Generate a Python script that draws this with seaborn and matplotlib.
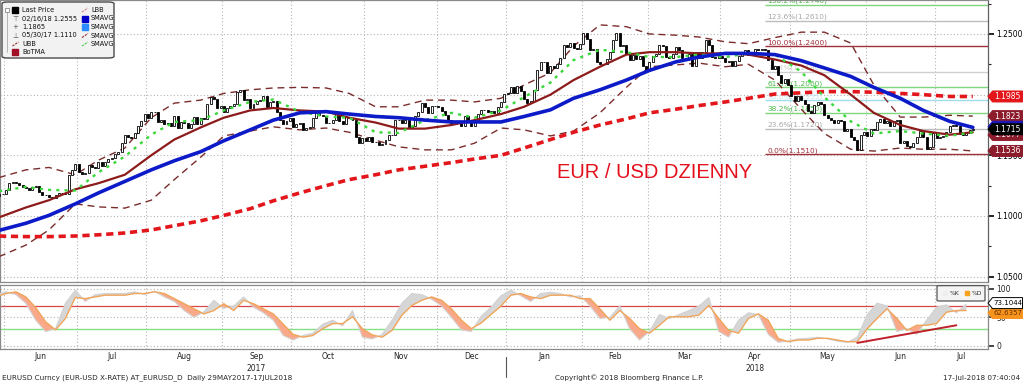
import matplotlib
matplotlib.use("Agg")
import matplotlib.pyplot as plt
import matplotlib.transforms as mtransforms
from matplotlib.patches import FancyBboxPatch, Polygon
import seaborn as sns
import pandas as pd
import numpy as np

# ---------------- data ----------------
# daily closes, one row per week (Mon..Fri), 29 May 2017 - 17 Jul 2018
first_open = 1.1170
closes = [
    1.1165, 1.1185, 1.1180, 1.1215, 1.1275,
    1.1280, 1.1270, 1.1255, 1.1240, 1.1230,
    1.1215, 1.1240, 1.1245, 1.1200, 1.1170,
    1.1175, 1.1160, 1.1150, 1.1170, 1.1190,
    1.1190, 1.1180, 1.1340, 1.1380, 1.1425,
    1.1365, 1.1350, 1.1355, 1.1420, 1.1400,
    1.1395, 1.1445, 1.1415, 1.1445, 1.1470,
    1.1475, 1.1510, 1.1525, 1.1600, 1.1665,
    1.1650, 1.1645, 1.1680, 1.1745, 1.1780,
    1.1840, 1.1805, 1.1860, 1.1860, 1.1775,
    1.1790, 1.1755, 1.1770, 1.1740, 1.1820,
    1.1725, 1.1775, 1.1765, 1.1725, 1.1760,
    1.1815, 1.1760, 1.1810, 1.1800, 1.1925,
    1.1980, 1.1965, 1.1890, 1.1910, 1.1860,
    1.1890, 1.1910, 1.1920, 1.2020, 1.2035,
    1.1960, 1.1965, 1.1890, 1.1920, 1.1945,
    1.1955, 1.1990, 1.1895, 1.1940, 1.1950,
    1.1860, 1.1795, 1.1760, 1.1785, 1.1810,
    1.1735, 1.1760, 1.1765, 1.1710, 1.1725,
    1.1735, 1.1805, 1.1850, 1.1830, 1.1820,
    1.1765, 1.1765, 1.1790, 1.1840, 1.1785,
    1.1760, 1.1815, 1.1810, 1.1790, 1.1650,
    1.1605, 1.1645, 1.1620, 1.1655, 1.1610,
    1.1610, 1.1585, 1.1595, 1.1625, 1.1665,
    1.1665, 1.1795, 1.1790, 1.1770, 1.1795,
    1.1735, 1.1745, 1.1820, 1.1855, 1.1930,
    1.1895, 1.1845, 1.1905, 1.1905, 1.1895,
    1.1865, 1.1830, 1.1795, 1.1770, 1.1770,
    1.1775, 1.1740, 1.1825, 1.1775, 1.1745,
    1.1785, 1.1840, 1.1875, 1.1875, 1.1860,
    1.1865, 1.1850, 1.1895, 1.1940, 1.2005,
    1.2010, 1.2060, 1.2015, 1.2070, 1.2030,
    1.1965, 1.1935, 1.1950, 1.2035, 1.2200,
    1.2265, 1.2265, 1.2180, 1.2235, 1.2220,
    1.2255, 1.2300, 1.2410, 1.2395, 1.2425,
    1.2385, 1.2375, 1.2415, 1.2510, 1.2460,
    1.2370, 1.2380, 1.2270, 1.2250, 1.2250,
    1.2290, 1.2350, 1.2450, 1.2510, 1.2405,
    1.2410, 1.2335, 1.2285, 1.2325, 1.2295,
    1.2320, 1.2235, 1.2195, 1.2265, 1.2315,
    1.2335, 1.2410, 1.2405, 1.2310, 1.2305,
    1.2335, 1.2390, 1.2370, 1.2305, 1.2290,
    1.2335, 1.2240, 1.2350, 1.2300, 1.2355,
    1.2450, 1.2410, 1.2310, 1.2305, 1.2320,
    1.2300, 1.2270, 1.2275, 1.2240, 1.2280,
    1.2320, 1.2355, 1.2370, 1.2325, 1.2330,
    1.2380, 1.2370, 1.2375, 1.2370, 1.2285,
    1.2210, 1.2235, 1.2165, 1.2100, 1.2130,
    1.2080, 1.1990, 1.1950, 1.1990, 1.1960,
    1.1925, 1.1865, 1.1850, 1.1915, 1.1940,
    1.1925, 1.1835, 1.1810, 1.1790, 1.1770,
    1.1790, 1.1780, 1.1700, 1.1720, 1.1650,
    1.1625, 1.1540, 1.1665, 1.1690, 1.1660,
    1.1715, 1.1710, 1.1775, 1.1800, 1.1765,
    1.1780, 1.1745, 1.1785, 1.1795, 1.1605,
    1.1620, 1.1575, 1.1570, 1.1605, 1.1655,
    1.1700, 1.1650, 1.1550, 1.1570, 1.1685,
    1.1640, 1.1655, 1.1660, 1.1690, 1.1745,
    1.1750, 1.1740, 1.1675, 1.1665, 1.1685,
    1.1710, 1.1715,
]

# indicator lines, sampled at these trading days (0 = 29 May 2017)
ma_days = [0, 9, 16, 24, 31, 39, 47, 54, 62, 69, 77, 84, 92, 100, 107, 115, 122, 130, 138, 145,
           153, 160, 168, 175, 183, 191, 198, 206, 213, 221, 228, 236, 244, 251, 259, 266, 274, 281, 289, 296]
sma_blue = [1.0875, 1.094, 1.1005, 1.110, 1.119, 1.1285, 1.138, 1.1455, 1.153, 1.162,
            1.171, 1.179, 1.185, 1.186, 1.184, 1.182, 1.181, 1.179, 1.1775, 1.1775,
            1.1775, 1.182, 1.1875, 1.197, 1.204, 1.212, 1.220, 1.227, 1.231, 1.234,
            1.234, 1.233, 1.228, 1.222, 1.215, 1.206, 1.197, 1.187, 1.178, 1.173]
sma_darkred = [1.098, 1.107, 1.113, 1.122, 1.127, 1.134, 1.150, 1.163, 1.173, 1.181,
               1.187, 1.189, 1.187, 1.186, 1.181, 1.177, 1.172, 1.172, 1.175, 1.179,
               1.184, 1.190, 1.200, 1.212, 1.223, 1.233, 1.235, 1.235, 1.234, 1.234,
               1.233, 1.229, 1.224, 1.216, 1.200, 1.185, 1.175, 1.170, 1.167, 1.169]
sma_red = [1.0835, 1.083, 1.083, 1.0835, 1.0845, 1.086, 1.0885, 1.092, 1.096, 1.1005,
           1.106, 1.1125, 1.119, 1.125, 1.130, 1.134, 1.138, 1.141, 1.144, 1.147,
           1.150, 1.156, 1.163, 1.169, 1.175, 1.180, 1.185, 1.188, 1.191, 1.194,
           1.197, 1.2005, 1.2015, 1.2025, 1.2025, 1.202, 1.201, 1.200, 1.1985, 1.1985]
sma_green = [1.120, 1.124, 1.1215, 1.121, 1.136, 1.149, 1.167, 1.1775, 1.179, 1.187,
             1.194, 1.196, 1.186, 1.182, 1.181, 1.169, 1.1685, 1.179, 1.185, 1.181,
             1.187, 1.198, 1.210, 1.2285, 1.237, 1.235, 1.231, 1.231, 1.233, 1.231,
             1.234, 1.233, 1.219, 1.198, 1.178, 1.168, 1.170, 1.168, 1.166, 1.169]
bb_upper = [1.131, 1.138, 1.140, 1.134, 1.146, 1.156, 1.181, 1.193, 1.1955, 1.201,
            1.204, 1.2055, 1.206, 1.2055, 1.201, 1.190, 1.190, 1.1955, 1.1955, 1.194,
            1.197, 1.208, 1.218, 1.240, 1.2575, 1.256, 1.250, 1.249, 1.2475, 1.2435,
            1.242, 1.247, 1.2515, 1.2515, 1.2425, 1.208, 1.1815, 1.1815, 1.183, 1.1823]
bb_lower = [1.0655, 1.076, 1.0885, 1.110, 1.1075, 1.1065, 1.113, 1.130, 1.1485, 1.166,
            1.170, 1.1735, 1.171, 1.1725, 1.169, 1.1625, 1.157, 1.1545, 1.1545, 1.160,
            1.1725, 1.171, 1.166, 1.170, 1.185, 1.206, 1.223, 1.2245, 1.226, 1.223,
            1.225, 1.212, 1.188, 1.168, 1.155, 1.1535, 1.156, 1.155, 1.155, 1.1536]

fib_levels = [1.1510, 1.1720, 1.1850, 1.1955, 1.2060, 1.2190, 1.2400, 1.2610, 1.2740]
fib_names = ["0.0%", "23.6%", "38.2%", "50.0%", "61.8%", "76.4%", "100.0%", "123.6%", "138.2%"]
fib_start_day = 233

# right-hand value tags (drawn in this order, last on top)
tag_values = [1.1985, 1.1823, 1.1735, 1.1668, 1.1715, 1.1536]
tag_texts = ["1.1985", "1.1823", "", "1.1677", "1.1715", "1.1536"]

# price axis ticks (1.2000 sits under the 1.1985 tag in the original)
price_ticks = [1.05, 1.10, 1.15, 1.20, 1.25]
price_tick_labels = ["1.0500", "1.1000", "1.1500", "", "1.2500"]

# slow stochastic, every third trading day
stoch_days = list(range(0, 295, 3))
pct_d = [86, 92, 95, 86, 67, 42, 28, 48, 85, 83, 86, 89, 89,
         89, 92, 92, 95, 92, 83, 74, 65, 56, 62, 74, 62, 80, 74, 65, 56, 38, 20, 15, 18,
         30, 39, 39, 51, 30, 19, 15, 27, 54, 71, 80, 86, 80, 65, 45, 30, 40, 55, 70, 89,
         92, 86, 83, 89, 89, 89, 83, 83, 65, 45, 62, 48,
         30, 22, 36, 51, 51, 51, 54, 71, 48, 27, 22, 48, 56, 45, 13, 7, 10, 10, 13, 13,
         10, 7, 7, 30, 48, 65, 48, 27, 36, 36, 39, 59, 62, 62]
pct_k = [90, 95, 90, 75, 45, 25, 30, 75, 98, 78, 90, 92, 92,
         92, 95, 90, 96, 86, 78, 62, 50, 60, 80, 66, 70, 86, 68, 58, 45, 18, 10, 18, 22,
         38, 45, 35, 62, 15, 12, 20, 45, 75, 92, 90, 82, 70, 50, 28, 25, 52, 68, 88, 98,
         88, 78, 92, 94, 92, 86, 88, 70, 48, 50, 70, 30,
         10, 25, 55, 48, 55, 62, 70, 85, 25, 15, 45, 58, 55, 20, 6, 8, 12, 13, 15, 12,
         8, 6, 15, 55, 75, 70, 25, 30, 20, 45, 68, 72, 58, 73]
trend_days = [261, 291]
trend_vals = [5, 36]
k_last, d_last = 73.1044, 62.6357

# ---------------- figure ----------------
sns.set_style("white")
plt.rcParams['font.family'] = ['DejaVu Sans']

W, H = 1023, 384
fig = plt.figure(figsize=(W / 100, H / 100), dpi=100)
ax = fig.add_axes([0.0, 1 - 282 / H, 988 / W, 282 / H])
ax2 = fig.add_axes([0.0, 1 - 349 / H, 988 / W, 64 / H])

dates = pd.bdate_range("2017-05-29", "2018-07-17")
n = len(dates)
days = np.arange(n)
x_lo, x_hi = 1.17, 300.6

month_id = dates.year * 12 + dates.month
starts = [i for i in range(1, n) if month_id[i] != month_id[i - 1]]
bounds = [s - 0.5 for s in starts]
ends = bounds[1:] + [x_hi]
centers = [(b + e) / 2 for b, e in zip(bounds, ends)]
mlabels = [dates[s].strftime("%b") for s in starts]

grid_kw = dict(color="#b4b4b4", lw=0.8, ls=(0, (1, 2)), zorder=1)

# --- main panel ---
for b in bounds:
    ax.axvline(b, **grid_kw)
for lvl in price_ticks:
    ax.axhline(lvl, **grid_kw)

fib_colors = ["#a0303a", "#bdbdbd", "#7fd67f", "#9fdcec", "#7fd67f", "#cfcfcf",
              "#a0303a", "#bdbdbd", "#7fd67f"]
fib_tcolors = ["#a0303a", "#a8a8a8", "#4cb84c", "#bfe6f0", "#4cb84c", "#d0d0d0",
               "#a0303a", "#a8a8a8", "#4cb84c"]
for lvl, name, c, tc in zip(fib_levels, fib_names, fib_colors, fib_tcolors):
    ax.hlines(lvl, fib_start_day, x_hi, color=c, lw=1.0, zorder=2)
    ax.text(fib_start_day + 0.8, lvl + 0.0030, f"{name}({lvl:.4f})", color=tc,
            fontsize=5.3, va="center", ha="left", zorder=2)

opens = [first_open] + closes[:-1]
candles = pd.DataFrame({"day": days, "open": opens, "close": closes})
up = candles["close"] >= candles["open"]
for mask, fc in [(up, "white"), (~up, "black")]:
    sub = candles[mask]
    ax.bar(sub["day"], sub["close"] - sub["open"], bottom=sub["open"], width=0.6,
           facecolor=fc, edgecolor="black", linewidth=0.6, zorder=4)

sns.lineplot(x=ma_days, y=bb_upper, ax=ax, color="#7b2d2d", linewidth=1.0,
             linestyle=(0, (5, 3.5)), zorder=3)
sns.lineplot(x=ma_days, y=bb_lower, ax=ax, color="#7b2d2d", linewidth=1.0,
             linestyle=(0, (5, 3.5)), zorder=3)
sns.lineplot(x=ma_days, y=sma_red, ax=ax, color="#e3161c", linewidth=2.6,
             linestyle=(0, (2.0, 1.3)), zorder=5)
sns.lineplot(x=ma_days, y=sma_darkred, ax=ax, color="#8e1b1b", linewidth=1.6, zorder=5)
sns.lineplot(x=ma_days, y=sma_green, ax=ax, color="#3ad83a", linewidth=1.7,
             linestyle=(0, (1.3, 2.2)), zorder=6)
sns.lineplot(x=ma_days, y=sma_blue, ax=ax, color="#0c1ac8", linewidth=2.6, zorder=6)

ax.text(655 / 988, 1 - 172 / 282, "EUR / USD DZIENNY", transform=ax.transAxes,
        color="#e3101c", fontsize=14.5, ha="center", va="center",
        family=["Liberation Sans", "DejaVu Sans"])

ax.set_xlim(x_lo, x_hi)
ax.set_ylim(1.0456, 1.278)
ax.set_xticks([])
ax.yaxis.tick_right()
ax.set_yticks(price_ticks)
ax.set_yticklabels(price_tick_labels)
ax.set_yticks([1.075, 1.125, 1.175, 1.225, 1.275], minor=True)
ax.tick_params(axis="y", which="major", direction="out", length=4, width=1.2,
               labelsize=5.5, pad=2, colors="black")
ax.tick_params(axis="y", which="minor", direction="out", length=2.5, width=0.8)
ax.set_xlabel("")
ax.set_ylabel("")
for s in ax.spines.values():
    s.set_color("#8a8a8a")
    s.set_linewidth(0.9)
ax.spines["right"].set_color("#606060")


# arrow-shaped value tag on the right edge of an axes (pixel geometry)
def value_tag(axis, value, text, bg, fg, edge=None, size=5.5, z=30):
    y = axis.transData.transform((0, value))[1]
    x0 = axis.transAxes.transform((1, 0))[0]
    h, tip, w = 5.5, 4.5, 34.5
    pts = [(x0, y), (x0 + tip, y + h), (x0 + w, y + h), (x0 + w, y - h), (x0 + tip, y - h)]
    poly = Polygon(pts, closed=True, transform=mtransforms.IdentityTransform(),
                   fc=bg, ec=edge or bg, lw=0.7, zorder=z)
    fig.add_artist(poly)
    if text:
        fig.text((x0 + tip + (w - tip) / 2) / W, y / H, text, fontsize=size, color=fg,
                 ha="center", va="center", zorder=z + 0.5)


tag_bg = ["#e3161c", "#8c1c2c", "#1818c0", "#8c1c2c", "black", "#8c1c2c"]
for i, (v, t, bg) in enumerate(zip(tag_values, tag_texts, tag_bg)):
    value_tag(ax, v, t, bg, "white", z=30 + i)

# legend box (top-left)
def axf(px, py):
    return px / 988, 1 - py / 282

box = FancyBboxPatch(axf(2, 58), 112 / 988, 56 / 282, transform=ax.transAxes,
                     boxstyle="round,pad=0,rounding_size=0.006", fc="#f2f2f2",
                     ec="#4a4a4a", lw=1.0, zorder=15)
ax.add_patch(box)
rows = [10, 18.5, 27, 35.5, 44, 52]
ax.plot(*zip(axf(7, 10), axf(7, 52)), transform=ax.transAxes, color="#aaaaaa",
        lw=0.6, zorder=16)
ax.plot(*axf(7, 10), marker="s", ms=3.2, mfc="white", mec="#888888", mew=0.6,
        transform=ax.transAxes, zorder=17)
col1 = ["Last Price", "02/16/18 1.2555", "1.1865", "05/30/17 1.1110", "UBB", "BoTMA"]
for y, t in zip(rows, col1):
    ax.text(*axf(22, y), t, transform=ax.transAxes, fontsize=4.8, va="center",
            ha="left", zorder=17, color="#111111")
ax.plot(*axf(15.5, rows[0]), marker="s", ms=4, color="black", transform=ax.transAxes, zorder=17)
for y, g in zip(rows[1:4], ["\u22a4", "+", "\u22a5"]):
    ax.text(*axf(15.5, y), g, transform=ax.transAxes, fontsize=5, va="center",
            ha="center", zorder=17, color="#555555")
ax.plot(*zip(axf(12.5, rows[4] + 2), axf(18.5, rows[4] - 2)), transform=ax.transAxes,
        color="#8c2a2a", lw=0.8, ls=(0, (2, 1)), zorder=17)
ax.plot(*axf(15.5, rows[5]), marker="s", ms=4, color="#a01028", transform=ax.transAxes, zorder=17)
col2 = ["LBB", "SMAVG", "SMAVG", "SMAVG", "SMAVG"]
for y, t in zip(rows[:5], col2):
    ax.text(*axf(91, y), t, transform=ax.transAxes, fontsize=4.8, va="center",
            ha="left", zorder=17, color="#111111")
ax.plot(*zip(axf(82, rows[0] + 2), axf(88, rows[0] - 2)), transform=ax.transAxes,
        color="#d08080", lw=0.8, ls=(0, (2, 1)), zorder=17)
ax.plot(*axf(85, rows[1]), marker="s", ms=4, color="#0000c8", transform=ax.transAxes, zorder=17)
ax.plot(*axf(85, rows[2]), marker="s", ms=4, color="#2a8cff", transform=ax.transAxes, zorder=17)
ax.plot(*zip(axf(82, rows[3] + 2), axf(88, rows[3] - 2)), transform=ax.transAxes,
        color="#8c2a2a", lw=0.8, ls=(0, (2, 1)), zorder=17)
ax.plot(*zip(axf(82, rows[4] + 2), axf(88, rows[4] - 2)), transform=ax.transAxes,
        color="#40d040", lw=0.8, ls=(0, (2, 1)), zorder=17)

# --- stochastic panel ---
for b in bounds:
    ax2.axvline(b, **grid_kw)
for lvl in [0, 50, 100]:
    ax2.axhline(lvl, **grid_kw)
ax2.axhline(70, color="#d84848", lw=0.9, zorder=2)
ax2.axhline(30, color="#86e086", lw=1.0, zorder=2)

k_arr = np.array(pct_k, dtype=float)
d_arr = np.array(pct_d, dtype=float)
ax2.fill_between(stoch_days, k_arr, d_arr, where=k_arr >= d_arr, interpolate=True,
                 color="#d6d6d6", lw=0, zorder=3)
ax2.fill_between(stoch_days, k_arr, d_arr, where=k_arr < d_arr, interpolate=True,
                 color="#f9a98a", lw=0, zorder=3)
sns.lineplot(x=stoch_days, y=pct_k, ax=ax2, color="#d2d2d2", linewidth=0.8, zorder=4)
sns.lineplot(x=stoch_days, y=pct_d, ax=ax2, color="#f0a55a", linewidth=1.0, zorder=5)
sns.lineplot(x=trend_days, y=trend_vals, ax=ax2, color="#c0202a", linewidth=1.4, zorder=6)

ax2.set_xlim(x_lo, x_hi)
ax2.set_ylim(-5.8, 107)
ax2.yaxis.tick_right()
ax2.set_yticks([0, 50, 100])
ax2.set_yticklabels(["0", "50", "100"])
ax2.tick_params(axis="y", direction="out", length=4, width=1.2, labelsize=5.5, pad=2)
ax2.set_xticks(bounds)
ax2.set_xticklabels([])
ax2.set_xticks(centers, minor=True)
ax2.set_xticklabels(mlabels, minor=True)
ax2.tick_params(axis="x", which="major", direction="out", length=3, width=0.8,
                color="#777777")
ax2.tick_params(axis="x", which="minor", length=0, labelsize=5.5, pad=2.5)
ax2.set_xlabel("")
ax2.set_ylabel("")
for s in ax2.spines.values():
    s.set_color("#8a8a8a")
    s.set_linewidth(0.9)

value_tag(ax2, d_last - 5, f"{d_last:.4f}", "#f7941d", "#6a3000", size=5.0, z=40)
value_tag(ax2, k_last + 2, f"{k_last:.4f}", "white", "black", edge="black", size=5.0, z=42)

lbox = FancyBboxPatch((937 / 988, 0.75), 48 / 988, 0.24, transform=ax2.transAxes,
                      boxstyle="round,pad=0,rounding_size=0.005", fc="#f4f4f4",
                      ec="#555555", lw=0.9, zorder=15)
ax2.add_patch(lbox)
ax2.plot(945 / 988, 0.87, marker="s", ms=3.5, color="#eeeeee", transform=ax2.transAxes, zorder=16)
ax2.text(950 / 988, 0.87, "%K", transform=ax2.transAxes, fontsize=4.3, va="center",
         ha="left", zorder=16)
ax2.plot(967 / 988, 0.87, marker="s", ms=3.5, color="#f7a21d", transform=ax2.transAxes, zorder=16)
ax2.text(972 / 988, 0.87, "%D", transform=ax2.transAxes, fontsize=4.3, va="center",
         ha="left", zorder=16)

# year labels under the month labels
trx = mtransforms.blended_transform_factory(ax2.transData, ax2.transAxes)
for yr in [2017, 2018]:
    cs = [c for c, s in zip(centers, starts) if dates[s].year == yr]
    ax2.text(np.mean(cs), -0.30, str(yr), transform=trx, fontsize=5.5, ha="center", va="center")
jan = [b for b, s in zip(bounds, starts) if dates[s].month == 1][0]
ax2.plot([jan, jan], [-0.12, -0.44], transform=trx, color="#555555", lw=0.8, clip_on=False)

# footer
fig.text(2 / W, 1 - 378 / H, "EURUSD Curncy (EUR-USD X-RATE) AT_EURUSD_D  Daily 29MAY2017-17JUL2018",
         fontsize=5.2, va="center", ha="left")
fig.text(555 / W, 1 - 378 / H, "Copyright\u00a9 2018 Bloomberg Finance L.P.",
         fontsize=5.2, va="center", ha="left")
fig.text(1020 / W, 1 - 378 / H, "17-Jul-2018 07:40:04", fontsize=5.2, va="center", ha="right")

fig.savefig("out.png", dpi=100)
